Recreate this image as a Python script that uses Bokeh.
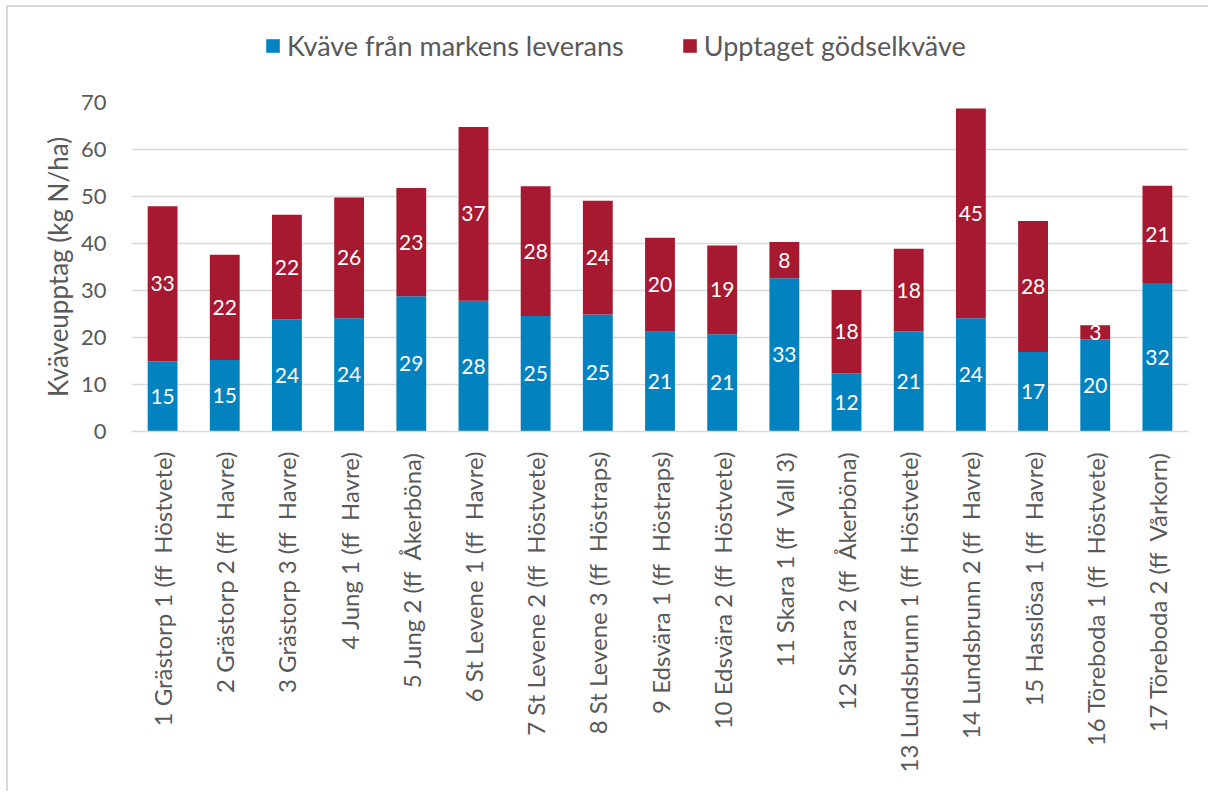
import math
from bokeh.plotting import figure
from bokeh.layouts import column
from bokeh.models import ColumnDataSource, Legend, LegendItem, LabelSet, FixedTicker
from bokeh.embed import file_html
from bokeh.resources import INLINE
from bokeh.core.properties import value

NB = "\u00a0"
categories = [
    f"1 Grästorp 1 (ff{NB} Höstvete)",
    f"2 Grästorp 2 (ff{NB} Havre)",
    f"3 Grästorp 3 (ff{NB} Havre)",
    f"4 Jung 1 (ff{NB} Havre)",
    f"5 Jung 2 (ff{NB} Åkerböna)",
    f"6 St Levene 1 (ff{NB} Havre)",
    f"7 St Levene 2 (ff{NB} Höstvete)",
    f"8 St Levene 3 (ff{NB} Höstraps)",
    f"9 Edsvära 1 (ff{NB} Höstraps)",
    f"10 Edsvära 2 (ff{NB} Höstvete)",
    f"11 Skara 1 (ff{NB} Vall 3)",
    f"12 Skara 2 (ff{NB} Åkerböna)",
    f"13 Lundsbrunn 1 (ff{NB} Höstvete)",
    f"14 Lundsbrunn 2 (ff{NB} Havre)",
    f"15 Hasslösa 1 (ff{NB} Havre)",
    f"16 Töreboda 1 (ff{NB} Höstvete)",
    f"17 Töreboda 2 (ff{NB} Vårkorn)",
]
soil_n = [14.9, 15.2, 23.9, 24.1, 28.8, 27.8, 24.6, 24.9, 21.2, 20.7, 32.6, 12.4, 21.3, 24.1, 16.9, 19.6, 31.6]
fert_n = [33.0, 22.4, 22.2, 25.7, 23.0, 37.0, 27.6, 24.2, 20.0, 18.9, 7.7, 17.7, 17.6, 44.6, 27.9, 3.0, 20.7]
series_names = ["Kväve från markens leverans", "Upptaget gödselkväve"]
y_ticks = [0, 10, 20, 30, 40, 50, 60, 70]
y_title = "Kväveupptag (kg N/ha)"

BLUE = "#0282BE"
RED = "#A61930"
GRAY = "#595959"
FONT = "Lato"

totals = [a + b for a, b in zip(soil_n, fert_n)]
src = ColumnDataSource(dict(
    cat=categories,
    soil=soil_n,
    fert=fert_n,
    soil_mid=[a / 2 for a in soil_n],
    fert_mid=[a + b / 2 for a, b in zip(soil_n, fert_n)],
    soil_lbl=[f"{round(a)}" for a in soil_n],
    fert_lbl=[f"{round(b)}" for b in fert_n],
    total=totals,
))

# ---- main chart ----
p = figure(x_range=categories, y_range=(0, 70),
           frame_width=1057, frame_height=329,
           output_backend="svg", toolbar_location=None,
           min_border_left=123, min_border_right=20, min_border_top=15, min_border_bottom=360)
p.outline_line_color = None
p.x_range.range_padding = 0

r1 = p.vbar(x="cat", bottom=0, top="soil", width=0.48, source=src, fill_color=BLUE, line_color=None)
r2 = p.vbar(x="cat", bottom="soil", top="total", width=0.48, source=src, fill_color=RED, line_color=None)

for ycol, tcol in (("soil_mid", "soil_lbl"), ("fert_mid", "fert_lbl")):
    p.add_layout(LabelSet(x="cat", y=ycol, text=tcol, source=src,
                          text_color="white", text_font=value(FONT), text_font_size="21px",
                          text_align="center", text_baseline="middle"))

p.xgrid.grid_line_color = None
p.ygrid.grid_line_color = "#D9D9D9"
p.ygrid.grid_line_width = 1.5
p.yaxis.ticker = FixedTicker(ticks=y_ticks)

p.yaxis.axis_line_color = None
p.yaxis.major_tick_line_color = None
p.yaxis.minor_tick_line_color = None
p.yaxis.major_label_text_font = FONT
p.yaxis.major_label_text_font_size = "22px"
p.yaxis.major_label_text_color = GRAY
p.yaxis.major_label_standoff = 19
p.yaxis.axis_label = y_title
p.yaxis.axis_label_text_font = FONT
p.yaxis.axis_label_text_font_size = "26px"
p.yaxis.axis_label_text_font_style = "normal"
p.yaxis.axis_label_text_color = GRAY
p.yaxis.axis_label_standoff = 4

p.xaxis.axis_line_color = "#D9D9D9"
p.xaxis.axis_line_width = 1.5
p.xaxis.major_tick_line_color = None
p.xaxis.minor_tick_line_color = None
p.xaxis.major_label_orientation = math.pi / 2
p.xaxis.major_label_text_font = FONT
p.xaxis.major_label_text_font_size = "24px"
p.xaxis.major_label_text_color = GRAY
p.xaxis.major_label_standoff = 14

# ---- legend strip above the chart (its bars lie outside its visible range) ----
lg = figure(width=1200, height=80, x_range=categories, y_range=(1000, 1001),
            output_backend="svg", toolbar_location=None,
            x_axis_type=None, y_axis_type=None,
            min_border_left=0, min_border_right=0, min_border_top=0, min_border_bottom=0)
lg.outline_line_color = None
lg.xgrid.grid_line_color = None
lg.ygrid.grid_line_color = None
e1 = lg.vbar(x="cat", top="soil", width=0.48, source=src, fill_color=BLUE, line_color=None)
e2 = lg.vbar(x="cat", top="total", width=0.48, source=src, fill_color=RED, line_color=None)
legend = Legend(items=[LegendItem(label=series_names[0], renderers=[e1]),
                       LegendItem(label=series_names[1], renderers=[e2])],
                orientation="horizontal", location=(133, 25),
                label_text_font=FONT, label_text_font_size="27px", label_text_color=GRAY,
                label_height=30,
                glyph_width=17, glyph_height=17, label_standoff=6, spacing=57,
                padding=0, margin=0, border_line_color=None, background_fill_alpha=0)
lg.add_layout(legend, "center")

layout = column(lg, p, spacing=0)
layout.styles = {"margin-left": "6px", "margin-top": "5px",
                 "border-left": "2px solid #D9D9D9", "border-top": "2px solid #D9D9D9"}

open("out.html", "w").write(file_html(layout, INLINE))
